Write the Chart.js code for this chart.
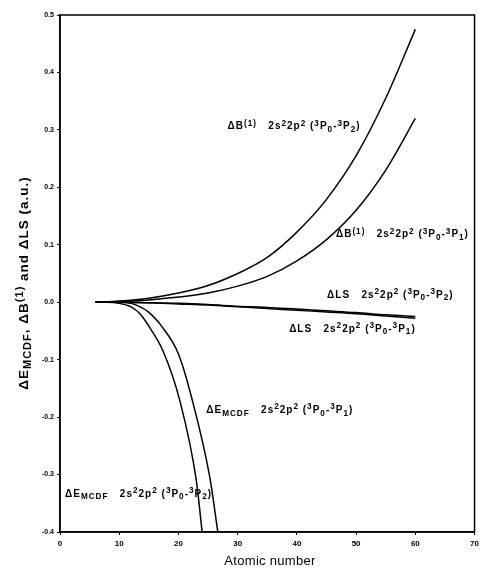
<!DOCTYPE html>
<html>
<head>
<meta charset="utf-8">
<script src="https://cdn.jsdelivr.net/npm/chart.js@4.4.1/dist/chart.umd.min.js"></script>
<style>
  html, body { margin: 0; padding: 0; background: #ffffff; }
  #wrap { width: 483px; height: 570px; }
</style>
</head>
<body>
<div id="wrap"><canvas id="grafico" width="483" height="570"></canvas></div>
<script>
// Datos (numero atomico Z, energia en u.a.)
const zComun = [6, 10, 15, 20, 25, 30, 35, 40, 45, 50, 55, 60];
const bP2 = [0, 0.002, 0.007, 0.016, 0.029, 0.05, 0.078, 0.122, 0.179, 0.255, 0.355, 0.475];
const bP1 = [0, 0.001, 0.004, 0.009, 0.016, 0.028, 0.045, 0.072, 0.109, 0.16, 0.23, 0.32];
const lsP2 = [0, 0, -0.001, -0.002, -0.004, -0.007, -0.009, -0.012, -0.015, -0.018, -0.022, -0.025];
const lsP1 = [0, 0, -0.001, -0.003, -0.005, -0.008, -0.011, -0.014, -0.017, -0.020, -0.024, -0.028];

const zMcdfP2 = [6, 8, 10, 12, 13.5, 15.4, 17.4, 20.2, 23, 24];
const mcdfP2 = [0, 0, -0.002, -0.008, -0.02, -0.048, -0.085, -0.17, -0.309, -0.4];
const zMcdfP1 = [6, 10, 12, 14.8, 17.4, 20, 22.2, 25.3, 26.65];
const mcdfP1 = [0, 0, -0.002, -0.016, -0.045, -0.09, -0.165, -0.305, -0.4];

const xTicks = [0, 10, 20, 30, 40, 50, 60, 70];
const yTicks = [-0.4, -0.3, -0.2, -0.1, 0, 0.1, 0.2, 0.3, 0.4, 0.5];

// Textos de las curvas (^{} superindice, _{} subindice)
const etiquetas = [
  "ΔB^{(1)}   2s^{2}2p^{2} (^{3}P_{0}-^{3}P_{2})",
  "ΔB^{(1)}   2s^{2}2p^{2} (^{3}P_{0}-^{3}P_{1})",
  "ΔLS   2s^{2}2p^{2} (^{3}P_{0}-^{3}P_{2})",
  "ΔLS   2s^{2}2p^{2} (^{3}P_{0}-^{3}P_{1})",
  "ΔE_{MCDF}   2s^{2}2p^{2} (^{3}P_{0}-^{3}P_{1})",
  "ΔE_{MCDF}   2s^{2}2p^{2} (^{3}P_{0}-^{3}P_{2})"
];
const tituloY = "ΔE_{MCDF}, ΔB^{(1)} and ΔLS (a.u.)";
const tituloX = "Atomic number";

// posicion de cada etiqueta en coordenadas de datos (Z, energia)
const posEtiquetas = [
  [28.3, 0.301], [46.6, 0.113], [45.1, 0.008],
  [38.7, -0.051], [24.7, -0.193], [0.85, -0.339]
];

function puntos(xs, ys) {
  return xs.map((x, i) => ({ x: x, y: ys[i] }));
}

function partesTexto(str) {
  // divide el texto en trozos normales, superindices y subindices
  const partes = [];
  const re = /([\^_])\{([^}]*)\}/g;
  let ultimo = 0, m;
  while ((m = re.exec(str)) !== null) {
    if (m.index > ultimo) partes.push([str.slice(ultimo, m.index), 0]);
    partes.push([m[2], m[1] === "^" ? 1 : 2]);
    ultimo = re.lastIndex;
  }
  if (ultimo < str.length) partes.push([str.slice(ultimo), 0]);
  return partes;
}

function fuente(size) {
  return "bold " + size + "px 'Liberation Sans', Arial, sans-serif";
}

function anchoRico(ctx, str, size, esp) {
  let w = 0;
  ctx.letterSpacing = esp + "px";
  partesTexto(str).forEach(p => {
    ctx.font = fuente(p[1] ? size * 0.82 : size);
    w += ctx.measureText(p[0]).width;
  });
  return w;
}

function dibujarRico(ctx, str, x, y, size, esp) {
  let cx = x;
  ctx.textBaseline = "alphabetic";
  ctx.textAlign = "left";
  ctx.letterSpacing = esp + "px";
  partesTexto(str).forEach(p => {
    const s = p[1] ? size * 0.82 : size;
    ctx.font = fuente(s);
    let dy = 0;
    if (p[1] === 1) dy = -size * 0.38;
    if (p[1] === 2) dy = size * 0.25;
    ctx.fillText(p[0], cx, y + dy);
    cx += ctx.measureText(p[0]).width;
  });
}

const pluginTextos = {
  id: "textosFigura",
  afterDraw(chart) {
    const ctx = chart.ctx;
    const a = chart.chartArea;
    const sx = chart.scales.x;
    const sy = chart.scales.y;
    ctx.save();
    // marco completo
    ctx.strokeStyle = "#000";
    ctx.lineWidth = 1.5;
    ctx.strokeRect(a.left, a.top, a.right - a.left, a.bottom - a.top);

    ctx.fillStyle = "#000";
    etiquetas.forEach((t, i) => {
      const px = sx.getPixelForValue(posEtiquetas[i][0]);
      const py = sy.getPixelForValue(posEtiquetas[i][1]);
      dibujarRico(ctx, t, px, py, 10, 1.0);
    });

    // titulo eje x
    ctx.letterSpacing = "0.3px";
    ctx.font = "13px 'Liberation Sans', Arial, sans-serif";
    ctx.textAlign = "center";
    ctx.textBaseline = "middle";
    ctx.fillText(tituloX, 270, 561);

    // titulo eje y (girado)
    ctx.translate(23, 283);
    ctx.rotate(-Math.PI / 2);
    const w = anchoRico(ctx, tituloY, 13.5, 1.0);
    dibujarRico(ctx, tituloY, -w / 2, 5, 13.5, 1.0);
    ctx.restore();
  }
};

function serie(datos) {
  return {
    data: datos,
    borderColor: "#000",
    borderWidth: 1.5,
    pointRadius: 0,
    fill: false,
    cubicInterpolationMode: "monotone"
  };
}

const ctx = document.getElementById("grafico").getContext("2d");
new Chart(ctx, {
  type: "line",
  data: {
    datasets: [
      serie(puntos(zComun, bP2)),
      serie(puntos(zComun, bP1)),
      serie(puntos(zComun, lsP2)),
      serie(puntos(zComun, lsP1)),
      serie(puntos(zMcdfP2, mcdfP2)),
      serie(puntos(zMcdfP1, mcdfP1))
    ]
  },
  options: {
    responsive: false,
    animation: false,
    layout: { padding: { left: 0, top: 15, right: 7, bottom: 0 } },
    plugins: {
      legend: { display: false },
      tooltip: { enabled: false }
    },
    scales: {
      x: {
        type: "linear",
        min: 0,
        max: 70,
        afterBuildTicks: s => { s.ticks = xTicks.map(v => ({ value: v })); },
        afterFit: s => { s.height = 38; },
        border: { display: true, color: "#000", width: 1.5 },
        grid: { display: true, drawOnChartArea: false, drawTicks: true, tickLength: 3, color: "#000" },
        ticks: {
          color: "#000",
          padding: 4,
          font: { size: 8, weight: "bold", family: "'Liberation Sans', Arial" },
          callback: v => String(v)
        }
      },
      y: {
        type: "linear",
        min: -0.4,
        max: 0.5,
        afterBuildTicks: s => { s.ticks = yTicks.map(v => ({ value: v })); },
        afterFit: s => { s.width = 60; },
        border: { display: true, color: "#000", width: 1.5 },
        grid: { display: true, drawOnChartArea: false, drawTicks: true, tickLength: 3, color: "#000" },
        ticks: {
          color: "#000",
          padding: 3,
          font: { size: 7, weight: "bold", family: "'Liberation Sans', Arial" },
          callback: v => v.toFixed(1)
        }
      }
    }
  },
  plugins: [pluginTextos]
});
</script>
</body>
</html>
